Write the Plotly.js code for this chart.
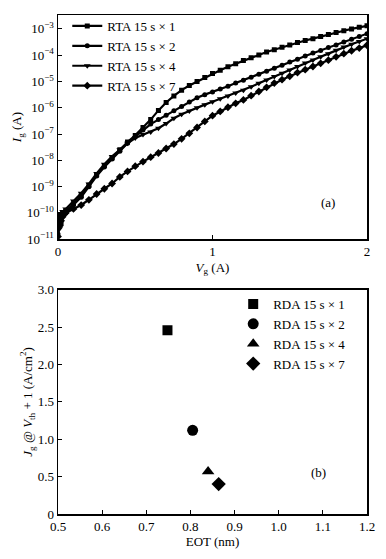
<!DOCTYPE html>
<html>
<head>
<meta charset="utf-8">
<script src="https://cdn.plot.ly/plotly-3.0.1.min.js"></script>
<style>html,body{margin:0;padding:0;background:#fff;}#chart{width:386px;height:559px;}</style>
</head>
<body>
<div id="chart"></div>
<script>
// ---- Panel (a): gate current vs gate voltage (values are log10 of Ig in A) ----
var vg = [0, 0.01, 0.02, 0.03, 0.05, 0.1, 0.15, 0.2, 0.25, 0.3, 0.35, 0.4, 0.45, 0.5, 0.55, 0.6, 0.65, 0.7, 0.75, 0.8, 0.85, 0.9, 0.95, 1.0,
          1.05, 1.1, 1.15, 1.2, 1.25, 1.3, 1.35, 1.4, 1.45, 1.5, 1.55, 1.6, 1.65, 1.7, 1.75, 1.8, 1.85, 1.9, 1.95, 2.0];
var logIgX1 = [-10.5, -10.1, -10.4, -10.0, -9.95, -9.65, -9.35, -8.95, -8.55, -8.2, -7.9, -7.6, -7.3, -7.05, -6.75, -6.45, -6.1, -5.8, -5.55, -5.33, -5.15, -5.0, -4.85, -4.7,
               -4.57, -4.44, -4.32, -4.2, -4.1, -3.99, -3.88, -3.79, -3.7, -3.61, -3.52, -3.44, -3.37, -3.29, -3.21, -3.14, -3.07, -3.0, -2.94, -2.88];
var logIgX2 = [-10.8, -10.3, -10.2, -10.05, -10.0, -9.7, -9.4, -9.0, -8.6, -8.25, -7.95, -7.65, -7.35, -7.1, -6.85, -6.62, -6.45, -6.28, -6.11, -5.95, -5.78, -5.62, -5.5, -5.4,
               -5.29, -5.18, -5.06, -4.95, -4.84, -4.72, -4.61, -4.5, -4.38, -4.26, -4.15, -4.03, -3.92, -3.82, -3.71, -3.61, -3.5, -3.39, -3.29, -3.18];
var logIgX4 = [-10.2, -10.6, -10.1, -9.95, -9.85, -9.55, -9.25, -8.9, -8.5, -8.15, -7.85, -7.6, -7.35, -7.15, -7.02, -6.92, -6.78, -6.6, -6.4, -6.25, -6.12, -6.0, -5.88, -5.77,
               -5.66, -5.55, -5.44, -5.33, -5.2, -5.07, -4.94, -4.81, -4.69, -4.56, -4.43, -4.3, -4.18, -4.06, -3.94, -3.81, -3.69, -3.58, -3.48, -3.37];
var logIgX7 = [-10.9, -10.5, -10.3, -10.15, -10.0, -9.85, -9.7, -9.5, -9.28, -9.08, -8.88, -8.63, -8.42, -8.22, -8.05, -7.88, -7.72, -7.55, -7.38, -7.18, -6.97, -6.75, -6.52, -6.3,
               -6.14, -5.98, -5.83, -5.7, -5.54, -5.38, -5.22, -5.06, -4.93, -4.8, -4.66, -4.55, -4.43, -4.31, -4.19, -4.06, -3.94, -3.83, -3.73, -3.62];
var namesA = ['RTA 15 s × 1', 'RTA 15 s × 2', 'RTA 15 s × 4', 'RTA 15 s × 7'];
var yTickExp = [-11, -10, -9, -8, -7, -6, -5, -4, -3];

// ---- Panel (b): Jg @ Vth+1 vs EOT ----
var eot = [0.748, 0.805, 0.840, 0.864];
var jg = [2.46, 1.12, 0.57, 0.40];
var namesB = ['RDA 15 s × 1', 'RDA 15 s × 2', 'RDA 15 s × 4', 'RDA 15 s × 7'];
var bYTicks = [0, 0.5, 1.0, 1.5, 2.0, 2.5, 3.0];
var bYText = ['0', '0.5', '1.0', '1.5', '2.0', '2.5', '3.0'];
var bXTicks = [0.5, 0.6, 0.7, 0.8, 0.9, 1.0, 1.1, 1.2];
var bXText = ['0.5', '0.6', '0.7', '0.8', '0.9', '1.0', '1.1', '1.2'];

var FONT = 'Liberation Serif, Times New Roman, serif';
var symA = ['square', 'circle', 'triangle-down', 'diamond'];
var sizeA = [5, 5, 6, 6];
var seriesA = [logIgX1, logIgX2, logIgX4, logIgX7];
var symB = ['square', 'circle', 'triangle-up', 'diamond'];
var sizeB = [10, 11, 11, 11];

var traces = [];
seriesA.forEach(function (s, i) {
  traces.push({
    x: vg, y: s.map(function (v) { return Math.pow(10, v); }),
    name: namesA[i], type: 'scatter', mode: 'lines+markers',
    line: {color: '#000', width: 2.2},
    marker: {symbol: symA[i], size: sizeA[i], color: '#000'},
    xaxis: 'x', yaxis: 'y', legend: 'legend'
  });
});
eot.forEach(function (e, i) {
  traces.push({
    x: [e], y: [jg[i]], name: namesB[i], type: 'scatter', mode: 'markers',
    marker: {symbol: symB[i], size: sizeB[i], color: '#000'},
    xaxis: 'x2', yaxis: 'y2', legend: 'legend2'
  });
});

var axBase = {
  showline: true, linecolor: '#000', linewidth: 1.5, mirror: true,
  ticks: 'inside', ticklen: 4, tickwidth: 1, tickcolor: '#000',
  showgrid: false, zeroline: false, fixedrange: true,
  tickfont: {family: FONT, size: 13, color: '#000'}
};
function ax(o) { return Object.assign({}, axBase, o); }

var layout = {
  width: 386, height: 559,
  margin: {l: 58, r: 19, t: 11, b: 45},
  paper_bgcolor: '#fff', plot_bgcolor: '#fff',
  font: {family: FONT, size: 13, color: '#000'},
  xaxis: ax({domain: [0, 1], anchor: 'y', range: [0, 2], tickvals: [0, 1, 2], ticktext: ['0', '1', '2'],
    title: {text: '<i>V</i><sub>g</sub> (A)', font: {family: FONT, size: 13}, standoff: 4}}),
  yaxis: ax({domain: [0.5507, 1], anchor: 'x', type: 'log', range: [-11, -2.47],
    tickvals: yTickExp.map(function (e) { return Math.pow(10, e); }),
    ticktext: yTickExp.map(function (e) { return '10<sup>' + String(e).replace('-', '−') + '</sup>'; }),
    title: {text: '<i>I</i><sub>g</sub> (A)', font: {family: FONT, size: 13}, standoff: 2}}),
  xaxis2: ax({domain: [0, 1], anchor: 'y2', range: [0.5, 1.2], tickvals: bXTicks, ticktext: bXText,
    title: {text: 'EOT (nm)', font: {family: FONT, size: 13}, standoff: 4}}),
  yaxis2: ax({domain: [0, 0.4493], anchor: 'x2', range: [0, 3.0], tickvals: bYTicks, ticktext: bYText,
    title: {text: '<i>J</i><sub>g</sub> @ <i>V</i><sub>th</sub> + 1 (A/cm<sup>2</sup>)', font: {family: FONT, size: 13}, standoff: 2}}),
  legend: {x: 0.03, y: 1.008, xanchor: 'left', yanchor: 'top', bgcolor: 'rgba(0,0,0,0)', borderwidth: 0,
    font: {family: FONT, size: 13, color: '#000'}, itemwidth: 30, tracegroupgap: 0},
  legend2: {x: 0.567, y: 0.451, xanchor: 'left', yanchor: 'top', bgcolor: 'rgba(0,0,0,0)', borderwidth: 0,
    font: {family: FONT, size: 13, color: '#000'}, itemwidth: 30},
  showlegend: true,
  annotations: [
    {text: '(a)', xref: 'paper', yref: 'paper', x: 0.903, y: 0.624, showarrow: false, font: {family: FONT, size: 13}},
    {text: '(b)', xref: 'paper', yref: 'paper', x: 0.874, y: 0.064, showarrow: false, font: {family: FONT, size: 13}}
  ]
};

Plotly.newPlot('chart', traces, layout, {displayModeBar: false, staticPlot: true});
</script>
</body>
</html>
